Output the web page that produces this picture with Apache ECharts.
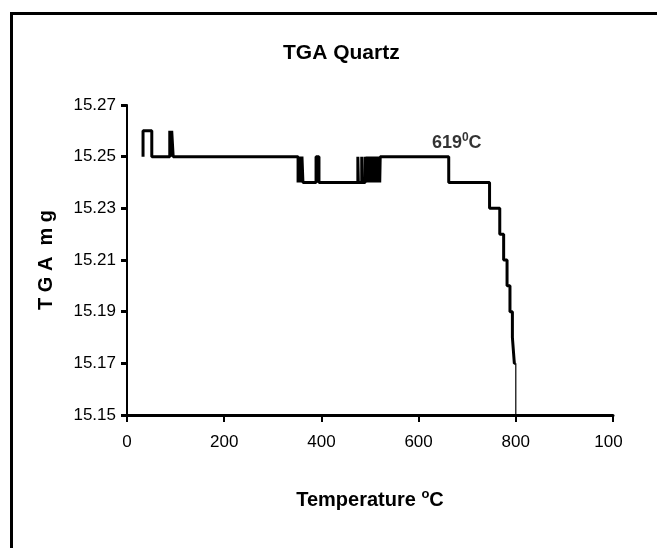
<!DOCTYPE html>
<html>
<head>
<meta charset="utf-8">
<script src="https://cdn.jsdelivr.net/npm/echarts@6/dist/echarts.min.js"></script>
<style>
html,body{margin:0;padding:0;background:#fff;}
#chart{width:657px;height:548px;}
</style>
</head>
<body>
<div id="chart"></div>
<script>
// ---- data ----
var chartTitle = 'TGA Quartz';
var xTickLabels = ['0', '200', '400', '600', '800', '100'];
var yTickLabels = ['15.15', '15.17', '15.19', '15.21', '15.23', '15.25', '15.27'];
// temperature (°C) where the TGA reading changes, and the new reading (mg)
var temperature = [33, 33, 51, 88, 90, 92, 95, 352, 355, 357, 360, 362, 389, 395, 475, 476, 483, 484,
  490, 492, 494, 496, 498, 500, 502, 504, 506, 508, 510, 512, 514, 516, 518, 520, 521,
  662, 746, 767, 775, 782, 788, 793, 797, 800];
var tgaMass = [15.25, 15.26, 15.25, 15.26, 15.25, 15.26, 15.25, 15.24, 15.25, 15.24, 15.25, 15.24, 15.25, 15.24, 15.25, 15.24, 15.25, 15.24,
  15.25, 15.24, 15.25, 15.24, 15.25, 15.24, 15.25, 15.24, 15.25, 15.24, 15.25, 15.24, 15.25, 15.24, 15.25, 15.24, 15.25,
  15.24, 15.23, 15.22, 15.21, 15.20, 15.19, 15.18, 15.17, 15.17];
var finalDropTemp = [800, 800];
var finalDropMass = [15.17, 15.15];
var annotTemp = 662, annotMass = 15.25, annotText = '619';

// ---- build ----
var yBase = 15.15, yScale = 100; // axis drawn in hundredths above 15.15
function toY(v){ return Math.round((v - yBase) * yScale * 1000) / 1000; }
var mainData = temperature.map(function(t, i){ return [t, toY(tgaMass[i])]; });
var dropData = finalDropTemp.map(function(t, i){ return [t, toY(finalDropMass[i])]; });

var FONT = "'Liberation Sans Narrow', 'Liberation Sans', Arial, sans-serif";
var chart = echarts.init(document.getElementById('chart'), null, {renderer: 'canvas'});
chart.setOption({
  backgroundColor: '#ffffff',
  animation: false,
  title: {
    text: chartTitle,
    left: 278, top: 38,
    textStyle: {fontFamily: FONT, fontSize: 21, fontWeight: 'bold', color: '#000'}
  },
  graphic: [{
    type: 'rect', left: 9, top: 11, silent: true,
    shape: {width: 700, height: 600},
    style: {fill: 'none', stroke: '#000', lineWidth: 3}
  }],
  grid: {left: 127, top: 105, width: 486, height: 310, containLabel: false, outerBoundsMode: 'none'},
  xAxis: {
    type: 'value', min: 0, max: 1000, interval: 200,
    name: 'Temperature {sup|o}C',
    nameLocation: 'middle', nameGap: 73,
    nameTextStyle: {fontFamily: FONT, fontSize: 20, fontWeight: 'bold', color: '#000',
      rich: {sup: {fontFamily: FONT, fontSize: 13, fontWeight: 'bold', color: '#000', verticalAlign: 'top', padding: [0, 0, 11, 0]}}},
    axisLine: {show: true, lineStyle: {color: '#000', width: 3}},
    axisTick: {show: true, inside: false, length: 7, lineStyle: {color: '#000', width: 2}},
    axisLabel: {fontFamily: FONT, fontSize: 17, color: '#000', margin: 19,
      formatter: function(v){
        var i = Math.round(v / 200);
        return i === xTickLabels.length - 1 ? '{cut|' + xTickLabels[i] + '}' : xTickLabels[i];
      },
      rich: {cut: {fontFamily: FONT, fontSize: 17, color: '#000', padding: [0, 9, 0, 0]}}},
    splitLine: {show: false}
  },
  yAxis: {
    type: 'value', min: 0, max: 12, interval: 2,
    name: 'T G A  m g',
    nameLocation: 'middle', nameGap: 71, nameRotate: 90,
    nameTextStyle: {fontFamily: FONT, fontSize: 20, fontWeight: 'bold', color: '#000'},
    axisLine: {show: true, lineStyle: {color: '#000', width: 2}},
    axisTick: {show: true, inside: false, length: 6, lineStyle: {color: '#000', width: 3}},
    axisLabel: {fontFamily: FONT, fontSize: 17, color: '#000', margin: 11,
      formatter: function(v){ return yTickLabels[Math.round(v / 2)]; }},
    splitLine: {show: false}
  },
  series: [{
    type: 'line', step: 'end', data: mainData, showSymbol: false, symbol: 'none',
    lineStyle: {color: '#000', width: 3}, z: 3
  }, {
    type: 'line', data: dropData, showSymbol: false, symbol: 'none',
    lineStyle: {color: '#000', width: 1.2}, z: 3
  }, {
    type: 'scatter', data: [[annotTemp, toY(annotMass)]], symbolSize: 0,
    label: {show: true, position: 'top', distance: 3, offset: [8, 0],
      formatter: annotText + '{sup|0}C',
      fontFamily: FONT, fontSize: 18, fontWeight: 'bold', color: '#000',
      rich: {sup: {fontFamily: FONT, fontSize: 12, fontWeight: 'bold', color: '#000', verticalAlign: 'top', padding: [0, 0, 10, 0]}}}
  }]
});
</script>
</body>
</html>
